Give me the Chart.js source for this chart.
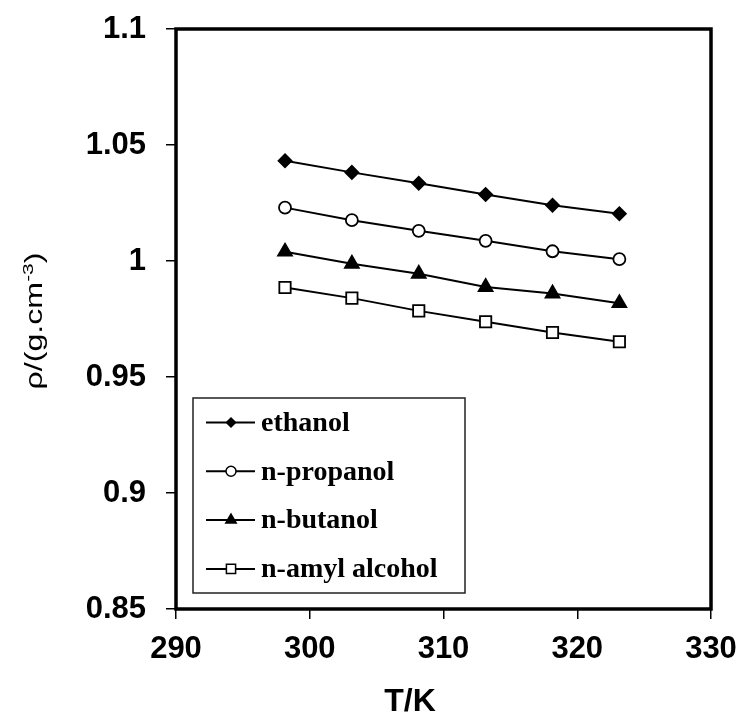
<!DOCTYPE html>
<html>
<head>
<meta charset="utf-8">
<script src="https://cdn.jsdelivr.net/npm/chart.js@4.4.0/dist/chart.umd.min.js"></script>
<style>
  html, body { margin: 0; padding: 0; background: #fff; }
  #wrap { width: 741px; height: 717px; }
</style>
</head>
<body>
<div id="wrap"><canvas id="densityChart" width="741" height="717"></canvas></div>
<script>
// temperatures (K)
var temps = [298.15, 303.15, 308.15, 313.15, 318.15, 323.15]

// densities (g/cm3)
var ethanol   = [1.0432, 1.0382, 1.0335, 1.0287, 1.0240, 1.0204]
var propanol  = [1.0230, 1.0176, 1.0130, 1.0087, 1.0042, 1.0008]
var butanol   = [1.0040, 0.9988, 0.9945, 0.9888, 0.9860, 0.9818]
var amyl      = [0.9886, 0.9840, 0.9785, 0.9738, 0.9692, 0.9652]

var seriesNames = ['ethanol', 'n-propanol', 'n-butanol', 'n-amyl alcohol']
var yTickLabels = ['0.85', '0.9', '0.95', '1', '1.05', '1.1']

function toPoints(values) {
  return values.map(function (v, i) { return { x: temps[i], y: v } })
}

function makeSet(label, values, style, fill, radius) {
  return {
    label: label,
    data: toPoints(values),
    borderColor: '#000',
    borderWidth: 2,
    pointStyle: style,
    pointRadius: radius,
    pointHoverRadius: radius,
    pointBackgroundColor: fill,
    pointBorderColor: '#000',
    pointBorderWidth: 1.8,
    tension: 0,
    fill: false
  }
}

// marker sizes used in the boxed key
var keyRadius = [4.5, 5, 6, 6.5]

// fixed axis boxes; label overhang is left to the layout padding
function fixBox(size) {
  return function (scale) {
    if (scale.isHorizontal()) scale.height = size
    else scale.width = size
    scale.paddingTop = 0
    scale.paddingBottom = 0
    scale.paddingLeft = 0
    scale.paddingRight = 0
  }
}

var frameAndText = {
  id: 'frameAndText',
  afterDraw: function (chart) {
    var ctx = chart.ctx
    var a = chart.chartArea
    ctx.save()

    // heavy frame around the plot
    ctx.strokeStyle = '#000'
    ctx.lineWidth = 3.5
    ctx.strokeRect(a.left, a.top, a.right - a.left, a.bottom - a.top)

    // key box
    var bx = a.left + 17, by = a.bottom - 211, bw = 272, bh = 195
    ctx.fillStyle = '#fff'
    ctx.fillRect(bx, by, bw, bh)
    ctx.lineWidth = 1.5
    ctx.strokeStyle = '#222'
    ctx.strokeRect(bx, by, bw, bh)

    ctx.font = 'bold 28px "Liberation Serif", "Times New Roman", serif'
    ctx.textBaseline = 'middle'
    ctx.textAlign = 'left'
    chart.data.datasets.forEach(function (ds, i) {
      var y = by + 24.5 + i * 48.8
      ctx.strokeStyle = '#000'
      ctx.lineWidth = 2
      ctx.beginPath()
      ctx.moveTo(bx + 13, y)
      ctx.lineTo(bx + 62, y)
      ctx.stroke()
      ctx.fillStyle = ds.pointBackgroundColor
      ctx.lineWidth = 1.5
      Chart.helpers.drawPoint(ctx, { pointStyle: ds.pointStyle, radius: keyRadius[i], borderWidth: 1.5, rotation: 0 }, bx + 38, y)
      ctx.fillStyle = '#000'
      ctx.fillText(ds.label, bx + 68, y + 1)
    })

    // x axis title
    ctx.font = 'bold 32px "Liberation Sans", Arial, sans-serif'
    ctx.textAlign = 'center'
    ctx.textBaseline = 'middle'
    ctx.fillText('T/K', 410, 702)

    // y axis title, with superscript exponent
    ctx.translate(34, 321)
    ctx.rotate(-Math.PI / 2)
    var mainFont = '23px "Liberation Sans", Arial, sans-serif'
    var supFont = '15px "Liberation Sans", Arial, sans-serif'
    ctx.font = mainFont
    var w1 = ctx.measureText('\u03c1/(g.cm').width
    var w3 = ctx.measureText(')').width
    ctx.font = supFont
    var w2 = ctx.measureText('-3').width
    var total = w1 + w2 + w3
    ctx.scale(137 / total, 1)
    ctx.textAlign = 'left'
    ctx.textBaseline = 'alphabetic'
    var x0 = -total / 2
    ctx.font = mainFont
    ctx.fillText('\u03c1/(g.cm', x0, 8)
    ctx.font = supFont
    ctx.fillText('-3', x0 + w1, -1)
    ctx.font = mainFont
    ctx.fillText(')', x0 + w1 + w2, 8)

    ctx.restore()
  }
}

var tickFont = { family: '"Liberation Sans", Arial, sans-serif', size: 31, weight: 'bold' }

var ctx = document.getElementById('densityChart').getContext('2d')
var densityChart = new Chart(ctx, {
  type: 'line',
  data: {
    datasets: [
      makeSet(seriesNames[0], ethanol, 'rectRot', '#000', 6.5),
      makeSet(seriesNames[1], propanol, 'circle', '#fff', 6),
      makeSet(seriesNames[2], butanol, 'triangle', '#000', 8),
      makeSet(seriesNames[3], amyl, 'rect', '#fff', 8)
    ]
  },
  options: {
    responsive: false,
    animation: false,
    events: [],
    layout: { padding: { left: 0, top: 29, right: 30, bottom: 0 } },
    plugins: {
      legend: { display: false },
      tooltip: { enabled: false }
    },
    scales: {
      x: {
        type: 'linear',
        min: 290,
        max: 330,
        border: { display: false },
        grid: { drawOnChartArea: false, drawTicks: true, tickLength: 10, tickColor: '#000', lineWidth: 1.5 },
        ticks: { stepSize: 10, color: '#000', font: tickFont, padding: 12, autoSkip: false, maxRotation: 0 },
        afterFit: fixBox(108)
      },
      y: {
        min: 0.85,
        max: 1.1,
        border: { display: false },
        grid: { drawOnChartArea: false, drawTicks: true, tickLength: 10, tickColor: '#000', lineWidth: 1.5 },
        ticks: {
          stepSize: 0.05,
          color: '#000',
          font: tickFont,
          padding: 20,
          autoSkip: false,
          callback: function (value, index) { return yTickLabels[index] }
        },
        afterFit: fixBox(176)
      }
    }
  },
  plugins: [frameAndText]
})
</script>
</body>
</html>
